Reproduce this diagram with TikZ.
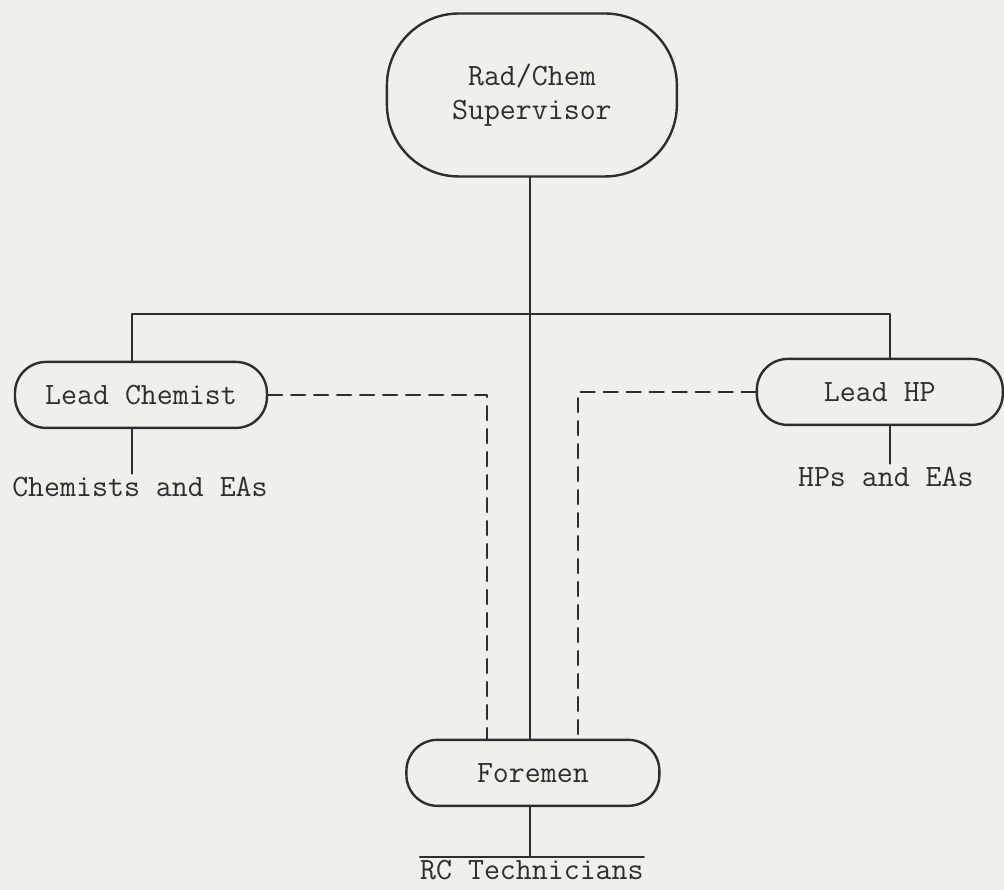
\documentclass[tikz,border=0pt]{standalone}
\usepackage{fontspec}
\usetikzlibrary{calc}
\definecolor{scanPaper}{HTML}{EFEFEC}
\definecolor{scanInk}{HTML}{2E2E2E}
\begin{document}
\begin{tikzpicture}[x=1pt,y=-1pt,line cap=round,line join=round]
\path[fill=scanPaper] (0,0) rectangle (1004,890);
\tikzset{ink/.style={draw=scanInk,line width=2.4pt},dashline/.style={ink,dash pattern=on 14pt off 9pt},pill/.style={ink,rounded corners=31pt,minimum height=66pt,font=\ttfamily\fontsize{31}{34}\selectfont,text=scanInk},label/.style={font=\ttfamily\fontsize{31}{34}\selectfont,text=scanInk}}
% boxes
\node[pill,rounded corners=72pt,minimum width=290pt,minimum height=163pt,align=center] (sup) at (532,95) {Rad/Chem\\Supervisor};
\node[pill,minimum width=252pt] (chem) at (141,395) {Lead Chemist};
\node[pill,minimum width=246pt] (hp) at (880,392) {Lead HP};
\node[pill,minimum width=253pt] (fore) at (533,773) {Foremen};
% staff texts
\node[label] (chemstaff) at (140,487) {Chemists and EAs};
\node[label] (hpstaff) at (886,477) {HPs and EAs};
\node[label,anchor=north,inner xsep=0pt,inner ysep=3pt] (rctech) at (532,857) {RC Technicians};
\coordinate (barL) at (132,314); \coordinate (barR) at (890,314);
\coordinate (dashL) at (487,397); \coordinate (dashR) at (578,397);
% solid lines
\draw[ink] (sup.south -| 530,0) -- (530,0 |- fore.north);
\draw[ink] (barL |- chem.north) -- (barL) -- (barR) -- (barR |- hp.north);
\draw[ink] (barL |- chem.south) -- (barL |- chemstaff.north);
\draw[ink] (barR |- hp.south) -- (barR |- hpstaff.north);
\draw[ink] (fore.south -| 530,0) -- (530,0 |- rctech.north);
\draw[ink] (rctech.north west) -- (rctech.north east);
% dashed lines
\draw[dashline] (chem.east) -| (dashL |- fore.north);
\draw[dashline] (hp.west) -| (dashR |- fore.north);
\end{tikzpicture}
\end{document}
